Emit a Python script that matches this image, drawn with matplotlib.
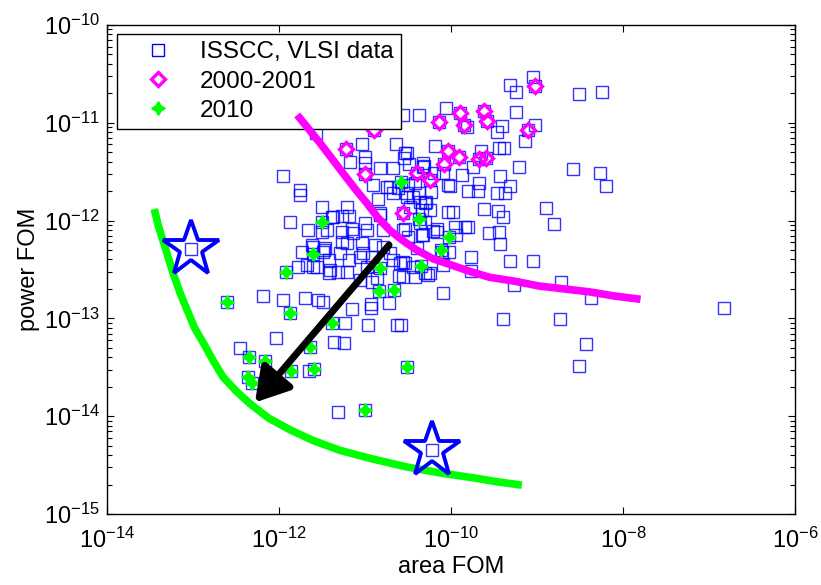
import numpy as np
import matplotlib
matplotlib.use('Agg')
import matplotlib.pyplot as plt
from matplotlib.ticker import LogLocator, NullLocator, NullFormatter, LogFormatterSciNotation

# valores em log10 (area FOM, power FOM)
isscc_x = [-9.05, -9.31, -9.24, -8.51, -8.24, -10.37, -10.06, -9.81, -9.24, -9.47,
	-9.41, -9.02, -9.14, -10.19, -10.51, -10.55, -9.65, -9.44, -9.38, -9.21,
	-8.58, -8.27, -8.20, -10.31, -10.09, -9.87, -9.74, -9.43, -9.67, -10.01,
	-9.31, -9.47, -9.37, -9.80, -10.29, -10.03, -9.98, -9.62, -9.45, -9.40,
	-8.90, -8.80, -10.36, -9.84, -9.56, -9.44, -9.43, -10.21, -10.34, -9.77,
	-9.31, -9.05, -10.10, -10.56, -10.24, -8.72, -9.27, -10.09, -8.37, -10.44,
	-9.40, -8.73, -8.43, -8.51, -6.83, -10.58, -11.95, -11.76, -11.76, -11.57,
	-11.03, -10.64, -10.53, -11.00, -11.00, -11.17, -10.83, -10.67, -10.49, -10.74,
	-10.85, -10.62, -10.51, -10.42, -11.87, -11.66, -11.50, -11.21, -11.37, -11.14,
	-10.98, -10.79, -11.60, -11.47, -11.29, -11.19, -11.02, -10.79, -10.67, -11.78,
	-11.60, -11.41, -11.21, -10.98, -10.86, -10.59, -10.42, -12.19, -11.95, -11.70,
	-11.55, -11.49, -11.15, -10.93, -10.93, -10.72, -10.63, -11.23, -12.03, -11.36,
	-11.24, -12.45, -11.65, -11.31, -10.92, -11.27, -11.19, -11.38, -11.44, -11.15,
	-11.00, -10.83, -11.27, -11.73, -11.48, -11.42, -11.42, -11.06, -10.92, -10.71,
	-10.53, -10.60, -11.06, -10.97, -10.56, -10.50, -10.33, -10.40, -10.30, -10.48,
	-10.34, -10.44, -10.67, -10.52, -10.37, -10.23, -9.69, -10.30, -10.30, -10.16,
	-9.95, -9.94, -10.02, -10.56, -10.27, -10.09, -9.77, -10.71, -10.50, -10.33,
	-10.20, -10.03, -9.80, -10.36, -10.24, -10.16, -10.53, -10.83, -11.50, -11.27,
	-11.62, -11.49, -11.21, -11.03, -10.88, -11.31, -11.67, -11.56, -10.56, -10.33,
	-10.91]
isscc_y = [-10.53, -10.61, -10.69, -10.71, -10.69, -10.92, -10.85, -11.04, -10.89, -11.09,
	-11.03, -11.02, -11.19, -11.24, -11.31, -11.36, -11.29, -11.26, -11.26, -11.45,
	-11.47, -11.51, -11.65, -11.44, -11.51, -11.53, -11.45, -11.54, -11.62, -11.65,
	-11.65, -11.72, -11.72, -11.70, -11.81, -11.91, -11.91, -11.88, -11.90, -11.96,
	-11.87, -12.03, -12.02, -12.07, -12.13, -12.12, -12.24, -12.11, -12.15, -12.37,
	-12.41, -12.41, -12.32, -12.58, -12.54, -12.63, -12.66, -12.74, -12.79, -12.47,
	-13.01, -13.01, -13.26, -13.49, -12.89, -13.07, -11.54, -11.69, -11.74, -11.10,
	-11.22, -11.22, -11.31, -11.35, -11.41, -11.40, -11.46, -11.46, -11.42, -11.66,
	-11.78, -11.67, -11.76, -11.62, -12.01, -12.10, -11.86, -11.86, -11.96, -12.13,
	-12.10, -12.10, -12.27, -12.28, -12.33, -12.40, -12.33, -12.27, -12.40, -12.47,
	-12.47, -12.51, -12.53, -12.47, -12.59, -12.43, -12.58, -12.77, -12.81, -12.79,
	-12.81, -12.83, -12.90, -12.85, -12.89, -12.84, -13.07, -13.05, -13.20, -13.24,
	-13.25, -13.30, -13.54, -13.96, -12.63, -11.95, -11.95, -11.96, -12.10, -12.09,
	-12.02, -11.94, -12.22, -12.32, -12.30, -12.40, -12.54, -12.37, -12.37, -12.33,
	-12.43, -12.57, -12.61, -13.07, -12.10, -12.17, -12.15, -12.28, -12.54, -11.86,
	-11.89, -11.76, -11.72, -11.72, -11.72, -11.71, -11.70, -11.82, -12.01, -12.09,
	-12.07, -12.15, -12.32, -12.42, -12.56, -12.45, -12.52, -11.66, -11.64, -11.45,
	-11.51, -11.64, -12.07, -11.81, -11.89, -12.12, -12.09, -11.92, -12.12, -12.12,
	-12.25, -12.32, -12.23, -12.23, -12.25, -12.53, -12.45, -12.47, -10.92, -11.41,
	-11.64]

ano2000_x = [-10.90, -11.22, -11.00, -10.56, -10.40, -10.24, -10.14, -9.90, -9.85, -9.62,
	-9.58, -9.02, -9.10, -10.03, -9.91, -10.08, -9.67, -9.59]
ano2000_y = [-11.07, -11.27, -11.52, -11.92, -11.51, -11.58, -10.99, -10.90, -11.02, -10.88,
	-10.98, -10.62, -11.07, -11.29, -11.35, -11.42, -11.37, -11.36]

ano2010_x = [-12.60, -11.92, -11.60, -11.50, -11.87, -11.38, -11.64, -12.35, -12.16, -12.36,
	-12.31, -11.86, -11.59, -11.00, -10.84, -10.66, -10.83, -10.37, -10.35, -10.58,
	-10.02, -10.12, -10.51]
ano2010_y = [-12.83, -12.53, -12.34, -12.01, -12.94, -13.05, -13.29, -13.39, -13.44, -13.60,
	-13.66, -13.54, -13.52, -13.94, -12.72, -12.71, -12.48, -11.98, -12.46, -11.61,
	-12.17, -12.30, -13.50]

estrela_x = [-13.02, -10.22]
estrela_y = [-12.29, -14.35]

curva_verde_x = [-13.44, -13.40, -13.35, -13.29, -13.23, -13.15, -13.07, -12.98, -12.88, -12.76,
	-12.65, -12.49, -12.34, -12.12, -11.87, -11.60, -11.29, -10.90, -10.51, -10.13,
	-9.74, -9.47, -9.22]
curva_verde_y = [-11.92, -12.06, -12.20, -12.37, -12.54, -12.74, -12.91, -13.10, -13.25, -13.44,
	-13.60, -13.75, -13.87, -14.02, -14.14, -14.25, -14.35, -14.44, -14.52, -14.58,
	-14.63, -14.67, -14.70]

curva_magenta_x = [-11.76, -11.64, -11.52, -11.39, -11.26, -11.12, -10.98, -10.85, -10.71, -10.55,
	-10.40, -10.21, -10.01, -9.78, -9.55, -9.26, -8.97, -8.67, -8.38, -8.11, -7.84]
curva_magenta_y = [-10.95, -11.08, -11.21, -11.36, -11.51, -11.67, -11.82, -11.97, -12.10, -12.21,
	-12.30, -12.39, -12.45, -12.52, -12.58, -12.62, -12.67, -12.70, -12.73, -12.77, -12.80]

seta_inicio = [-10.72, -12.25]
seta_fim = [-12.28, -13.86]


def grafico(saida='out.png'):
	plt.rcParams['font.family'] = ['Liberation Sans', 'DejaVu Sans']
	plt.rcParams['mathtext.fontset'] = 'custom'
	plt.rcParams['mathtext.rm'] = 'Liberation Sans'
	plt.rcParams['mathtext.it'] = 'Liberation Sans:italic'
	plt.rcParams['mathtext.default'] = 'regular'

	fig = plt.figure(figsize=(8.21, 5.85), dpi=100)
	ax = fig.add_axes([0.1303, 0.1214, 0.838, 0.8359])

	# todos os pontos do ISSCC/VLSI (inclui os de 2000 e 2010)
	todos_x = np.concatenate([isscc_x, ano2000_x, ano2010_x, estrela_x])
	todos_y = np.concatenate([isscc_y, ano2000_y, ano2010_y, estrela_y])
	ax.plot(10**todos_x, 10**todos_y, 's', mfc='none', mec='#0000ff', ms=9,
		mew=1.0, alpha=0.8, ls='none', label='ISSCC, VLSI data', zorder=2)

	# curva magenta fica por cima da legenda, como no original
	ax.plot(10**np.array(curva_magenta_x), 10**np.array(curva_magenta_y),
		color='#ff00ff', lw=5.5, zorder=6)
	ax.plot(10**np.array(curva_verde_x), 10**np.array(curva_verde_y),
		color='#00ff00', lw=5.5, zorder=3)

	ax.plot(10**np.array(ano2000_x), 10**np.array(ano2000_y), 'D', mfc='none',
		mec='#ff00ff', ms=7.5, mew=2.4, ls='none', label='2000-2001', zorder=4)
	ax.plot(10**np.array(ano2010_x), 10**np.array(ano2010_y), marker=(4, 1, 0),
		color='#00ff00', mec='#00ff00', ms=9.5, mew=1.4, ls='none', label='2010', zorder=4)

	ax.plot(10**np.array(estrela_x), 10**np.array(estrela_y), '*', mfc='none',
		mec='#0000ff', ms=42, mew=2.8, ls='none', zorder=4.5)

	ax.annotate('', xy=(10**seta_fim[0], 10**seta_fim[1]),
		xytext=(10**seta_inicio[0], 10**seta_inicio[1]),
		arrowprops=dict(arrowstyle='-|>,head_length=1.0,head_width=0.6', lw=5,
			color='k', mutation_scale=20, shrinkA=0, shrinkB=0), zorder=7)

	ax.set_xscale('log')
	ax.set_yscale('log')
	ax.set_xlim(1e-14, 1e-6)
	ax.set_ylim(1e-15, 1e-10)

	ax.xaxis.set_major_locator(LogLocator(base=100))
	ax.xaxis.set_major_formatter(LogFormatterSciNotation(base=10))
	ax.xaxis.set_minor_locator(NullLocator())
	ax.yaxis.set_major_locator(LogLocator(base=10))
	ax.yaxis.set_major_formatter(LogFormatterSciNotation(base=10))
	ax.yaxis.set_minor_locator(LogLocator(base=10, subs=np.arange(2, 10)))
	ax.yaxis.set_minor_formatter(NullFormatter())

	ax.tick_params(which='both', direction='in', top=True, right=True, labelsize=17)
	ax.tick_params(which='major', length=5, width=0.8)
	ax.tick_params(which='minor', length=3.5, width=0.8)
	ax.tick_params(axis='x', pad=10)
	ax.tick_params(axis='y', pad=5)
	for s in ax.spines.values():
		s.set_linewidth(1.0)

	ax.set_xlabel('area FOM', fontsize=17, labelpad=2)
	ax.set_ylabel('power FOM', fontsize=17, labelpad=3)

	leg = ax.legend(loc='upper left', bbox_to_anchor=(0.0145, 0.9816), fontsize=17.5,
		numpoints=1, fancybox=False, framealpha=1, edgecolor='k', borderpad=0.3,
		handlelength=2.8, handletextpad=0.3, labelspacing=0.3, borderaxespad=0)
	leg.get_frame().set_linewidth(1.0)
	leg.set_zorder(5)
	for h in leg.legend_handles:
		h.set_alpha(1)

	plt.savefig(saida, dpi=100)
	plt.close()


if __name__=='__main__':
	grafico()
